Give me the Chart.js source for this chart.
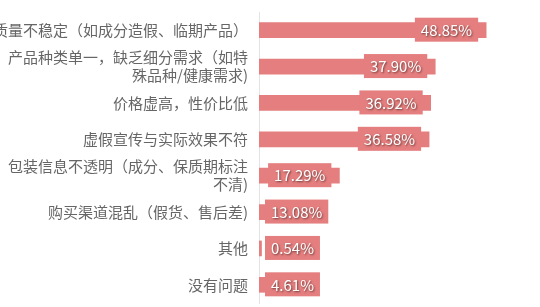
<!doctype html>
<html lang="zh">
<head>
<meta charset="utf-8">
<title>问题分布</title>
<script src="https://cdn.jsdelivr.net/npm/chart.js@4.4.1/dist/chart.umd.min.js"></script>
<style>
  html, body { margin: 0; padding: 0; background: #fff; }
  #wrap { position: relative; width: 540px; height: 307px; }
</style>
</head>
<body>
<div id="wrap"><canvas id="c"></canvas></div>
<script>
// 类目（多行的直接拆成数组，Chart.js 会按行画）
const categories = [
  "质量不稳定（如成分造假、临期产品）",
  ["产品种类单一，缺乏细分需求（如特", "殊品种/健康需求)"],
  "价格虚高，性价比低",
  "虚假宣传与实际效果不符",
  ["包装信息不透明（成分、保质期标注", "不清)"],
  "购买渠道混乱（假货、售后差)",
  "其他",
  "没有问题"
];
const shares = [48.85, 37.9, 36.92, 36.58, 17.29, 13.08, 0.54, 4.61];

const BAR = "#e57e7e";
const FONT = "'Noto Sans CJK SC', 'Microsoft YaHei', sans-serif";

// 数值标签：与柱同色的底块，白字带阴影，贴在柱尾内侧
const valueTags = {
  id: "valueTags",
  afterDatasetsDraw(chart) {
    const ctx = chart.ctx;
    const left = chart.chartArea.left;
    const meta = chart.getDatasetMeta(0);
    ctx.save();
    ctx.font = "15px " + FONT;
    ctx.textBaseline = "middle";
    meta.data.forEach((bar, i) => {
      const txt = shares[i].toFixed(2) + "%";
      const w = ctx.measureText(txt).width + 12;
      const h = 24;
      const x0 = Math.max(left + 6, bar.x - 8 - w);
      const y0 = bar.y - 0.5 - h / 2;
      ctx.shadowColor = "transparent";
      ctx.fillStyle = BAR;
      ctx.fillRect(x0, y0, w, h);
      ctx.shadowColor = "rgba(0,0,0,0.55)";
      ctx.shadowBlur = 2;
      ctx.shadowOffsetX = 1;
      ctx.shadowOffsetY = 1;
      ctx.fillStyle = "#fff";
      ctx.fillText(txt, x0 + 6, bar.y);
    });
    ctx.restore();
  }
};

new Chart(document.getElementById("c"), {
  type: "bar",
  data: {
    labels: categories,
    datasets: [{ data: shares, backgroundColor: BAR, barThickness: 15 }]
  },
  options: {
    indexAxis: "y",
    responsive: true,
    maintainAspectRatio: false,
    animation: false,
    layout: { padding: { top: 12, bottom: 4, right: 2, left: 0 } },
    plugins: { legend: { display: false }, tooltip: { enabled: false } },
    scales: {
      x: { display: false, min: 0, max: 60 },
      y: {
        grid: { display: false, drawTicks: false },
        border: { display: true, color: "#e3e3e3", width: 1 },
        ticks: { autoSkip: false, color: "#666", padding: 11, font: { size: 15, family: FONT, lineHeight: 1.2 } },
        afterFit(scale) {
          scale.width = 259;
          scale.paddingTop = 0;
          scale.paddingBottom = 0;
        }
      }
    }
  },
  plugins: [valueTags]
});
</script>
</body>
</html>
